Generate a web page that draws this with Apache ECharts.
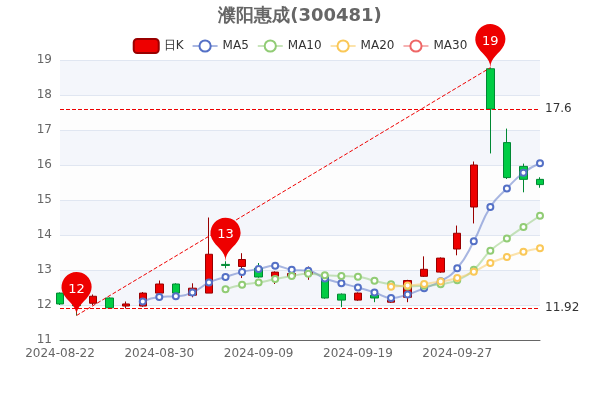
<!DOCTYPE html>
<html><head><meta charset="utf-8">
<script src="https://cdn.jsdelivr.net/npm/echarts@6/dist/echarts.min.js"></script>
<style>html,body{margin:0;padding:0}#c{width:600px;height:400px}</style>
</head><body><div id="c"></div>
<script>
const dates=['2024-08-22','2024-08-23','2024-08-26','2024-08-27','2024-08-28','2024-08-29','2024-08-30','2024-09-02','2024-09-03','2024-09-04','2024-09-05','2024-09-06','2024-09-09','2024-09-10','2024-09-11','2024-09-12','2024-09-13','2024-09-18','2024-09-19','2024-09-20','2024-09-23','2024-09-24','2024-09-25','2024-09-26','2024-09-27','2024-09-30','2024-10-08','2024-10-09','2024-10-10','2024-10-11'];
// [open, close, low, high]
const ohlc=[
[12.34,12.03,12.0,12.36],[12.02,11.98,11.70,12.1],[12.05,12.25,12.0,12.3],[12.2,11.92,11.9,12.22],
[11.97,12.03,11.9,12.1],[11.97,12.34,11.95,12.37],[12.34,12.6,12.3,12.7],[12.6,12.34,12.3,12.62],
[12.28,12.48,12.22,12.62],[12.34,13.45,12.34,14.5],[13.16,13.13,13.05,13.25],[13.1,13.3,12.77,13.48],
[13.05,12.8,12.78,13.2],[12.82,12.94,12.6,12.96],[12.82,12.9,12.8,12.93],[12.88,12.94,12.72,13.1],
[12.8,12.2,12.18,12.82],[12.31,12.14,11.94,12.33],[12.14,12.34,12.12,12.36],[12.28,12.2,12.08,12.3],
[12.08,12.14,12.06,12.16],[12.22,12.7,12.08,12.72],[12.82,13.02,12.8,13.39],[12.94,13.34,12.92,13.36],
[13.6,14.05,13.42,14.27],[14.8,16.0,14.33,16.1],[18.75,17.6,16.33,18.78],[16.64,15.64,15.6,17.04],
[15.96,15.59,15.22,16.04],[15.59,15.44,15.35,15.65]];
const marks=[{name:'12',idx:1,val:11.7},{name:'13',idx:10,val:13.25},{name:'19',idx:26,val:18.78}];
const closes=ohlc.map(d=>d[1]);
function ma(n){return closes.map((c,i)=>{if(i<n)return '-';let s=0;for(let j=i-n+1;j<=i;j++)s+=closes[j];return +(s/n).toFixed(2);});}
const chart=echarts.init(document.getElementById('c'));
const lineS=(name,n,color)=>({name,type:'line',data:ma(n),smooth:true,symbol:'circle',symbolSize:6,showAllSymbol:true,
 itemStyle:{color:'#fff',borderColor:color,borderWidth:2},lineStyle:{color,width:2,opacity:0.5}});
chart.setOption({
 animation:false,
 textStyle:{fontFamily:'DejaVu Sans'},
 title:{text:'濮阳惠成(300481)',left:'center',top:2,textStyle:{fontSize:18,fontWeight:'bold',color:'#666',fontFamily:'DejaVu Sans'}},
 legend:{top:33,itemGap:8,itemWidth:25,itemHeight:14,textStyle:{color:'#333'},data:[{name:'日K',itemStyle:{color:'#e00',borderColor:'#900'}},'MA5','MA10','MA20','MA30']},
 color:['#e00','#5470c6','#91cc75','#fac858','#ee6666'],
 grid:{left:60,right:60,top:60,bottom:60},
 xAxis:{type:'category',data:dates,boundaryGap:false,axisLabel:{interval:5,color:'#666'},axisLine:{lineStyle:{color:'#666'}},axisTick:{show:false}},
 yAxis:{type:'value',min:11,max:19,interval:1,axisLabel:{color:'#666'},splitLine:{lineStyle:{color:'#e0e6f1'}},
  splitArea:{show:true,areaStyle:{color:['rgba(250,250,250,0.3)','rgba(210,219,238,0.25)']}}},
 series:[
  {name:'日K',type:'candlestick',data:ohlc,barWidth:8,
   itemStyle:{color:'#e00',color0:'#0c4',borderColor:'#900',borderColor0:'#083'},
   markPoint:{symbolSize:50,itemStyle:{color:'#e00'},label:{color:'#fff',fontSize:13},
    data:marks.map(m=>({name:m.name,value:m.name,coord:[m.idx,m.val]}))},
   markLine:{symbol:'none',label:{color:'#333',position:'end'},lineStyle:{color:'#e00',type:'dashed',width:1},
    data:[{yAxis:17.6},{yAxis:11.92},[{coord:[marks[0].idx,marks[0].val],label:{show:false}},{coord:[marks[2].idx,marks[2].val]}]]}},
  lineS('MA5',5,'#5470c6'),lineS('MA10',10,'#91cc75'),lineS('MA20',20,'#fac858'),lineS('MA30',30,'#ee6666')
 ]
});
</script></body></html>
